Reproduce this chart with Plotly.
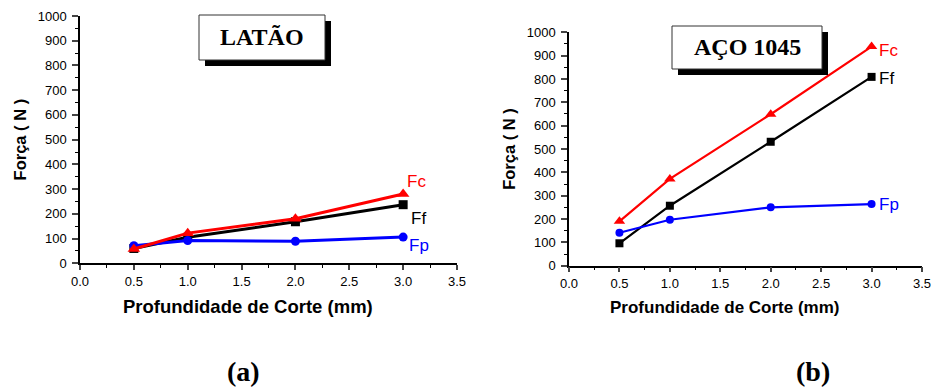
import plotly.graph_objects as go

depth = [0.5, 1.0, 2.0, 3.0]

latao_fc = [58, 122, 180, 280]
latao_ff = [60, 105, 168, 237]
latao_fp = [71, 92, 89, 106]

aco_fc = [190, 372, 649, 939]
aco_ff = [96, 257, 531, 809]
aco_fp = [141, 197, 250, 264]

x_ticks = [0.0, 0.5, 1.0, 1.5, 2.0, 2.5, 3.0, 3.5]
y_ticks = list(range(0, 1001, 100))
x_title = "Profundidade de Corte (mm)"
y_title = "Força ( N )"

RED, BLACK, BLUE = "#ff0000", "#000000", "#0000ff"
W, H = 932, 387

fig = go.Figure()

def add_series(xa, ya, fc, ff, fp, lw, sizes):
    for vals, col, sym, ms in [(ff, BLACK, "square", sizes[0]), (fp, BLUE, "circle", sizes[1]),
                               (fc, RED, "triangle-up", sizes[2])]:
        fig.add_trace(go.Scatter(x=depth, y=vals, mode="lines+markers", xaxis=xa, yaxis=ya,
                                 line=dict(color=col, width=lw),
                                 marker=dict(color=col, symbol=sym, size=ms),
                                 cliponaxis=False, showlegend=False))

add_series("x", "y", latao_fc, latao_ff, latao_fp, 3.0, (9, 9, 11))
add_series("x2", "y2", aco_fc, aco_ff, aco_fp, 2.2, (8, 8, 10))

tickfont = dict(family="Liberation Sans, Arial", size=13, color="black")
ytitlefont = dict(family="Liberation Sans, Arial", size=16.5, color="black")

def xaxis(domain, anchor):
    return dict(domain=domain, anchor=anchor, range=[0, 3.5], tickvals=x_ticks, automargin=False,
                ticktext=[f"{v:.1f}" for v in x_ticks], ticks="outside", ticklen=5, tickwidth=1.5,
                showline=True, linecolor="black", linewidth=1.5, showgrid=False, zeroline=False,
                tickfont=tickfont,
                minor=dict(dtick=0.25, ticks="outside", ticklen=3, tickwidth=1, tickcolor="black"))

def yaxis(domain, anchor):
    return dict(domain=domain, anchor=anchor, range=[0, 1000], tickvals=y_ticks, ticks="outside",
                ticklen=6, tickwidth=1.5, showline=True, linecolor="black", linewidth=1.5, automargin=False,
                showgrid=False, zeroline=False, tickfont=tickfont, ticklabelstandoff=3,
                title=dict(text=f"<b>{y_title}</b>", font=ytitlefont, standoff=7),
                minor=dict(dtick=50, ticks="outside", ticklen=3, tickwidth=1, tickcolor="black"))

fig.update_layout(
    width=W, height=H, margin=dict(l=0, r=0, t=0, b=0, autoexpand=False),
    paper_bgcolor="white", plot_bgcolor="white",
    xaxis=xaxis([80 / W, 457 / W], "y"),
    yaxis=yaxis([1 - 263.3 / H, 1 - 16 / H], "x"),
    xaxis2=xaxis([569 / W, 922 / W], "y2"),
    yaxis2=yaxis([1 - 265.7 / H, 1 - 32.3 / H], "x2"),
)

# x-axis titles (offset from axis centre as in the reference)
for cx, cy, fs in [(248, 306, 18.5), (725, 307, 17)]:
    fig.add_annotation(x=cx / W, y=1 - cy / H, xref="paper", yref="paper", text=f"<b>{x_title}</b>",
                       xanchor="center", yanchor="middle", showarrow=False,
                       font=dict(family="Liberation Sans, Arial", size=fs, color="black"))

lab = dict(family="Liberation Sans, Arial", size=17)
anns = [
    ("x", "y", 3.02, 329, "Fc", RED), ("x", "y", 3.05, 183, "Ff", BLACK), ("x", "y", 3.04, 74, "Fp", BLUE),
    ("x2", "y2", 3.05, 924, "Fc", RED), ("x2", "y2", 3.05, 804, "Ff", BLACK), ("x2", "y2", 3.05, 264, "Fp", BLUE),
]
for xr, yr, x, y, t, c in anns:
    fig.add_annotation(x=x, y=y, xref=xr, yref=yr, text=t, showarrow=False, xanchor="left",
                       yanchor="middle", font=dict(lab, color=c))

def box(x0, y0, x1, y1, text, off=6):
    fig.add_shape(type="rect", xref="paper", yref="paper", x0=(x0 + off) / W, x1=(x1 + off) / W,
                  y0=1 - (y1 + off) / H, y1=1 - (y0 + off) / H, fillcolor="black", line=dict(width=0))
    fig.add_shape(type="rect", xref="paper", yref="paper", x0=x0 / W, x1=x1 / W,
                  y0=1 - y1 / H, y1=1 - y0 / H, fillcolor="white", line=dict(color="#333333", width=1))
    fig.add_annotation(x=(x0 + x1) / 2 / W, y=1 - (y0 + y1) / 2 / H, xref="paper", yref="paper",
                       text=f"<b>{text}</b>", showarrow=False, xanchor="center", yanchor="middle",
                       font=dict(family="Liberation Serif, Times New Roman", size=24, color="black"))

box(199, 15, 325, 60, "LATÃO")
box(672, 26, 822, 69, "AÇO 1045")

for x, t in [(243.5, "(a)"), (812.5, "(b)")]:
    fig.add_annotation(x=x / W, y=1 - 371 / H, xref="paper", yref="paper", text=f"<b>{t}</b>",
                       xanchor="center", yanchor="middle", showarrow=False,
                       font=dict(family="Liberation Serif, Times New Roman", size=28, color="black"))

fig.write_html("out.html", config={"displayModeBar": False},
               post_script="document.body.style.margin='0';")
